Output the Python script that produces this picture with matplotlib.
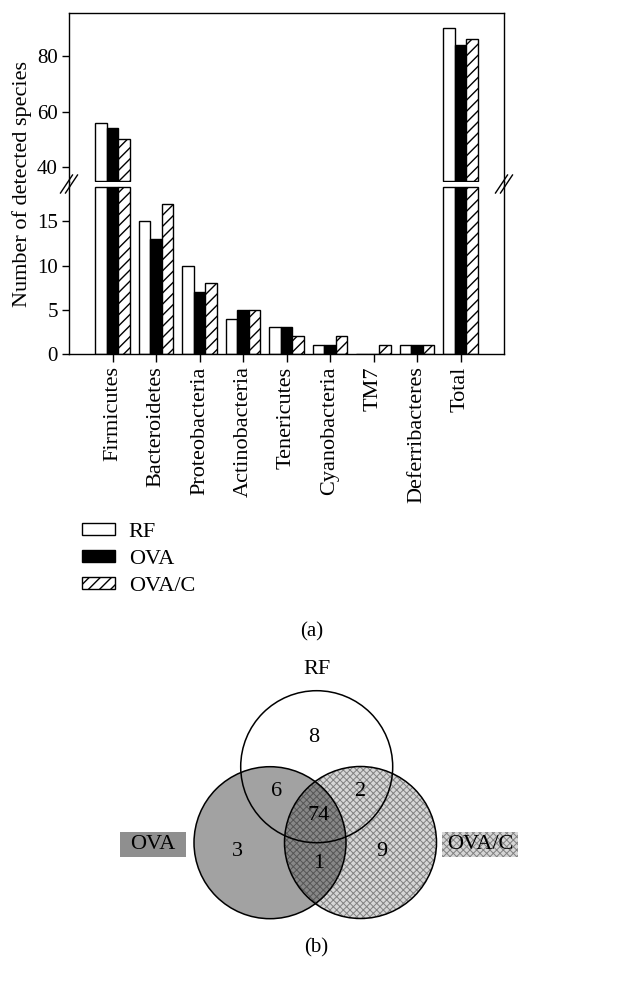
import numpy as np
import matplotlib
matplotlib.use("Agg")
import matplotlib.pyplot as plt
from matplotlib.patches import Rectangle, Circle
from matplotlib.lines import Line2D

plt.rcParams['font.family'] = ['Liberation Serif', 'DejaVu Serif']
plt.rcParams['hatch.linewidth'] = 1.0

# ---------------- data ----------------
categories = ["Firmicutes", "Bacteroidetes", "Proteobacteria", "Actinobacteria",
              "Tenericutes", "Cyanobacteria", "TM7", "Deferribacteres", "Total"]
rf_vals = [56, 15, 10, 4, 3, 1, 0, 1, 90]
ova_vals = [54, 13, 7, 5, 3, 1, 0, 1, 84]
ovac_vals = [50, 17, 8, 5, 2, 2, 1, 1, 86]
series_names = ["RF", "OVA", "OVA/C"]

upper_ticks = [40, 60, 80]
lower_ticks = [0, 5, 10, 15]

venn_sets = ["RF", "OVA", "OVA/C"]
venn_labels = ["8", "6", "2", "74", "3", "1", "9"]   # RF only, RF&OVA, RF&OVA/C, all, OVA only, OVA&OVA/C, OVA/C only

# ---------------- figure ----------------
W, H = 640, 991
fig = plt.figure(figsize=(W / 100, H / 100), dpi=100)

def fr(x0, y0, x1, y1):
    """pixel box (top-left origin) -> figure fraction rect"""
    return [x0 / W, 1 - y1 / H, (x1 - x0) / W, (y1 - y0) / H]

L, R = 69, 504
ax_top = fig.add_axes(fr(L, 13.3, R, 181.7))
ax_bot = fig.add_axes(fr(L, 186, R, 354))

top_lim = (34.84, 95.2)
bot_lim = (0, 19)

x = np.arange(len(categories))
w = 0.265
styles = [dict(facecolor='white', hatch=None),
          dict(facecolor='black', hatch=None),
          dict(facecolor='white', hatch='///')]
series = [rf_vals, ova_vals, ovac_vals]

handles = []
for i, (vals, st) in enumerate(zip(series, styles)):
    v = np.array(vals, dtype=float)
    xo = x + (i - 1) * w
    # lower panel
    hb = np.minimum(v, bot_lim[1] - 0.06)
    b = ax_bot.bar(xo, hb, width=w, edgecolor='black', linewidth=1.0, **st)
    # upper panel
    base = top_lim[0] + 0.12
    mask = v > base
    ax_top.bar(xo[mask], v[mask] - base, bottom=base, width=w,
               edgecolor='black', linewidth=1.0, **st)
    handles.append(b)

for ax in (ax_top, ax_bot):
    ax.set_xlim(-1, 9)
    for s in ax.spines.values():
        s.set_linewidth(1.0)
ax_top.set_ylim(*top_lim)
ax_bot.set_ylim(*bot_lim)
ax_top.spines['bottom'].set_visible(False)
ax_bot.spines['top'].set_visible(False)

ax_top.set_yticks(upper_ticks)
ax_top.set_xticks([])
ax_top.tick_params(axis='y', direction='out', length=5, width=1.0, labelsize=15, pad=3)
ax_bot.set_yticks(lower_ticks)
ax_bot.set_xticks(x)
ax_bot.set_xticklabels(categories, rotation=90, fontsize=16)
ax_bot.tick_params(axis='y', direction='out', length=5, width=1.0, labelsize=15, pad=3)
ax_bot.tick_params(axis='x', direction='out', length=6, width=1.0, pad=3)

fig.text(22 / W, 1 - 184 / H, "Number of detected species", rotation=90,
         ha='center', va='center', fontsize=16)

# connect spines across the break and draw break marks
for xs in (L, R):
    fig.add_artist(Line2D([xs / W, xs / W], [1 - 181.7 / H, 1 - 186 / H],
                          color='black', lw=1.0))
    for dx in (-2.5, 2.5):
        xa, ya = xs + dx - 6, 193
        xb, yb = xs + dx + 6, 175
        fig.add_artist(Line2D([xa / W, xb / W], [1 - ya / H, 1 - yb / H],
                              color='black', lw=1.0))

# legend
fig.legend([h[0] for h in handles], series_names, loc='upper left',
           bbox_to_anchor=(82 / W, 1 - 523 / H), frameon=False, fontsize=16,
           handlelength=1.5, handleheight=0.45, handletextpad=0.6,
           labelspacing=0.35, borderpad=0, borderaxespad=0)

fig.text(312 / W, 1 - 632 / H, "(a)", ha='center', va='center', fontsize=15)

# ---------------- Venn diagram ----------------
axv = fig.add_axes([0, 0, 1, 1], zorder=-1)
axv.set_xlim(0, W)
axv.set_ylim(H, 0)
axv.axis('off')

c_ova = Circle((270, 842.7), 76, facecolor='#a2a2a2', edgecolor='none')
axv.add_patch(c_ova)
with plt.rc_context({'hatch.linewidth': 0.7}):
    c_ovac = Circle((360.5, 842.5), 76, facecolor=(0, 0, 0, 0.16),
                    edgecolor=(0.1, 0.1, 0.1, 0.45), hatch='xxxxx', linewidth=0)
    axv.add_patch(c_ovac)
    box2 = Rectangle((442.3, 831.7), 76, 25, facecolor=(0, 0, 0, 0.16),
                     edgecolor=(0.1, 0.1, 0.1, 0.45), hatch='xxxxx', linewidth=0)
    axv.add_patch(box2)
for cx, cy in [(316.7, 766.7), (270, 842.7), (360.5, 842.5)]:
    axv.add_patch(Circle((cx, cy), 76, facecolor='none', edgecolor='black', lw=1.1))

label_pos = [(314, 738), (276.7, 792), (360.7, 792), (318.3, 815),
             (237.3, 851.7), (318.3, 864), (381.7, 851.7)]
for (px, py), t in zip(label_pos, venn_labels):
    axv.text(px, py, t, ha='center', va='center', fontsize=16)

axv.text(316.7, 670, venn_sets[0], ha='center', va='center', fontsize=16)
axv.add_patch(Rectangle((120, 831.7), 66, 25, facecolor='#8f8f8f', edgecolor='none'))
axv.text(153, 844.5, venn_sets[1], ha='center', va='center', fontsize=16)
axv.text(480.3, 844.5, venn_sets[2], ha='center', va='center', fontsize=16)

axv.text(316, 948, "(b)", ha='center', va='center', fontsize=15)

fig.savefig("out.png", dpi=100)
